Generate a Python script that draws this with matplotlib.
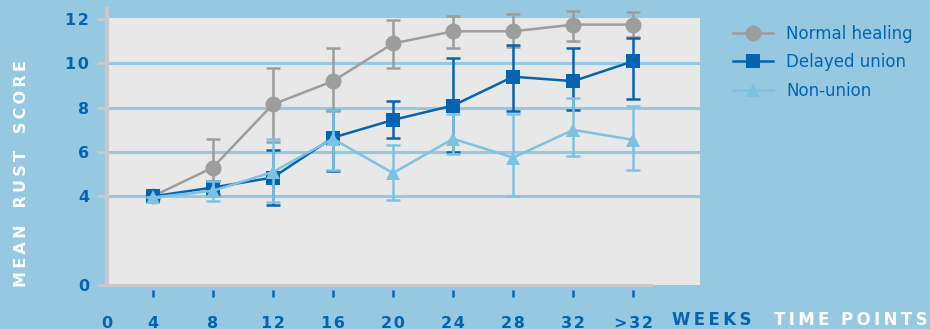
import matplotlib.pyplot as plt
import matplotlib.transforms as mtransforms

# weeks on x axis (categorical positions 1..9)
weeks = ["4", "8", "12", "16", "20", "24", "28", "32", ">32"]

normal = [4.0, 5.3, 8.15, 9.2, 10.9, 11.45, 11.45, 11.75, 11.75]
normal_lo = [4.0, 4.0, 6.45, 7.85, 9.8, 10.7, 10.75, 11.0, 11.2]
normal_hi = [4.0, 6.6, 9.8, 10.7, 11.95, 12.15, 12.25, 12.35, 12.3]

delayed = [4.0, 4.4, 4.85, 6.65, 7.45, 8.1, 9.4, 9.2, 10.1]
delayed_lo = [4.0, 4.1, 3.6, 5.15, 6.65, 6.0, 7.85, 7.9, 8.4]
delayed_hi = [4.0, 4.7, 6.1, 7.9, 8.3, 10.25, 10.85, 10.7, 11.15]

nonunion = [3.95, 4.25, 5.1, 6.6, 5.05, 6.6, 5.75, 7.0, 6.55]
nonunion_lo = [3.95, 3.8, 3.75, 5.2, 3.85, 5.9, 4.0, 5.8, 5.2]
nonunion_hi = [3.95, 4.7, 6.6, 7.9, 6.3, 7.7, 7.7, 8.45, 8.1]

bg = "#96c9e1"
panel = "#e8e8e8"
grey = "#9d9d9d"
dark = "#0564b1"
light = "#7dc3e1"
spine = "#c9c9c9"
hs = "\u200a"
thin = "\u2009"


def spaced(s, gap=hs, word="  "):
    return word.join(gap.join(w) for w in s.split(" "))


fig = plt.figure(figsize=(9.3, 3.29), dpi=100, facecolor=bg)
ax = fig.add_axes([107 / 930, 44 / 329, 593 / 930, 267 / 329])
ax.set_facecolor(panel)
for s in ax.spines.values():
    s.set_visible(False)

x = list(range(1, len(weeks) + 1))
ax.set_xlim(0.323, 10.11)
ax.set_ylim(0, 12.05)

for g in [4, 6, 8, 10]:
    ax.axhline(g, color=bg, lw=2.2, zorder=1)

series = [
    (normal, normal_lo, normal_hi, grey, "o", 11.5, "Normal healing"),
    (delayed, delayed_lo, delayed_hi, dark, "s", 9.5, "Delayed union"),
    (nonunion, nonunion_lo, nonunion_hi, light, "^", 10, "Non-union"),
]
handles = []
for i, (vals, lo, hi, col, mk, ms, lab) in enumerate(series):
    err = [[v - l for v, l in zip(vals, lo)], [h - v for v, h in zip(vals, hi)]]
    ax.errorbar(x, vals, yerr=err, fmt="none", ecolor=col, elinewidth=1.8,
                capsize=5, capthick=1.8, zorder=3 + i, clip_on=False)
    h, = ax.plot(x, vals, color=col, lw=1.8, marker=mk, markersize=ms,
                 markeredgewidth=0, zorder=3 + i, clip_on=False, label=lab)
    handles.append(h)

# spines drawn by hand
ax.plot([0, 0], [0, 1.04], transform=ax.transAxes, color=spine, lw=3,
        clip_on=False, solid_capstyle="butt", zorder=10)
ax.plot([0, 0.92], [0, 0], transform=ax.transAxes, color=spine, lw=2.2,
        clip_on=False, solid_capstyle="butt", zorder=10)

ax.set_yticks([0, 4, 6, 8, 10, 12])
ax.set_yticklabels([spaced(t) for t in ["0", "4", "6", "8", "10", "12"]])
ax.tick_params(axis="y", length=7, width=2, color=spine, pad=6,
               labelcolor=dark, labelsize=11.5)
for t in ax.get_yticklabels():
    t.set_fontweight("bold")

ax.set_xticks([0.24] + x)
ax.set_xticklabels([spaced(t) for t in ["0"] + weeks])
ax.tick_params(axis="x", length=0, pad=22, labelcolor=dark, labelsize=11.5)
for t in ax.get_xticklabels():
    t.set_fontweight("bold")

trans = mtransforms.blended_transform_factory(ax.transData, ax.transAxes)
for xi in x:
    ax.plot([xi, xi], [-0.017, -0.045], transform=trans, color=dark, lw=1.8,
            clip_on=False, solid_capstyle="butt")

fig.text(22 / 930, 1 - 174 / 329, spaced("MEAN RUST SCORE", thin, "   "), rotation=90,
         color="white", fontsize=11.5, fontweight="bold", ha="center", va="center")
fig.text(712 / 930, 1 - 320 / 329, spaced("WEEKS", thin), color=dark,
         fontsize=12, fontweight="bold", ha="center", va="center")
fig.text(851 / 930, 1 - 320 / 329, spaced("TIME POINTS", thin),
         color="white", fontsize=12, fontweight="bold", ha="center", va="center")

fig.legend(handles=handles, loc="upper left", bbox_to_anchor=(718 / 930, 1 - 10 / 329),
           frameon=False, handlelength=2.4, handletextpad=0.8, labelspacing=0.62,
           fontsize=12, labelcolor=dark)

fig.savefig("out.png", dpi=100, facecolor=bg)
